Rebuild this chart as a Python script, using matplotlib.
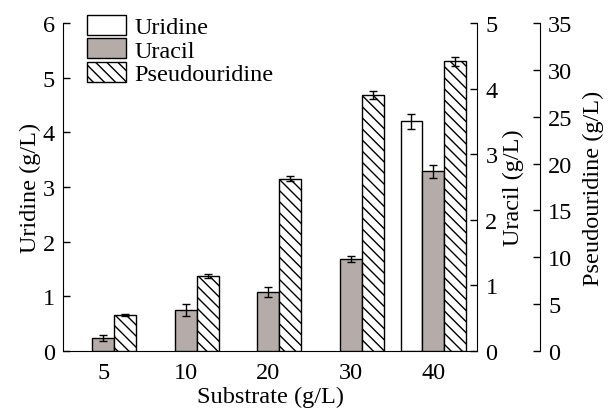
import numpy as np
import matplotlib
matplotlib.use("Agg")
import matplotlib.pyplot as plt

plt.rcParams['font.family'] = ['Liberation Serif', 'DejaVu Serif']
plt.rcParams['hatch.linewidth'] = 1.0

substrate = ['5', '10', '20', '30', '40']
uridine = [0, 0, 0, 0, 4.2]
uridine_err = [0, 0, 0, 0, 0.14]
uracil = [0.2, 0.63, 0.9, 1.4, 2.74]
uracil_err = [0.05, 0.09, 0.08, 0.05, 0.1]
pseudo = [3.85, 8.0, 18.4, 27.3, 30.9]
pseudo_err = [0.12, 0.22, 0.25, 0.4, 0.5]

gray = '#b5acaa'
w = 0.265
fs = 17.5
x = np.arange(len(substrate))

fig = plt.figure(figsize=(6.08, 4.10), dpi=100)
ax = fig.add_axes([0.1036, 0.1415, 0.681, 0.80])
ax2 = ax.twinx()
ax3 = ax.twinx()
ax3.spines['right'].set_position(('axes', 1.152))

eb = dict(ecolor='black', elinewidth=1, capsize=3, capthick=1)

mask = np.array(uridine) > 0
ax.bar(x[mask] - w, np.array(uridine)[mask], w, yerr=np.array(uridine_err)[mask],
       color='white', edgecolor='black', linewidth=1, error_kw=eb, label='Uridine')
b2 = ax2.bar(x, uracil, w, yerr=uracil_err, color=gray, edgecolor='black',
             linewidth=1, error_kw=eb, label='Uracil')
b3 = ax3.bar(x + w, pseudo, w, yerr=pseudo_err, color='white', edgecolor='black',
             hatch='\\\\\\', linewidth=1, error_kw=eb, label='Pseudouridine')

ax.set_xlim(-0.49, 4.53)
ax.set_ylim(0, 6)
ax2.set_ylim(0, 5)
ax3.set_ylim(0, 35)
ax.set_xticks(x)
ax.set_xticklabels(substrate)
ax.set_yticks(range(0, 7))
ax2.set_yticks(range(0, 6))
ax3.set_yticks(range(0, 36, 5))

for a in (ax, ax2, ax3):
    a.spines['top'].set_visible(False)
    a.tick_params(direction='in', length=5, width=1, labelsize=fs, pad=6)
ax.tick_params(axis='x', length=0, pad=8)
ax.spines['right'].set_visible(False)
ax3.spines['left'].set_visible(False)
ax3.spines['bottom'].set_visible(False)
ax2.spines['left'].set_visible(False)
ax2.spines['bottom'].set_visible(False)

ax.set_ylabel('Uridine (g/L)', fontsize=fs, labelpad=1)
ax2.set_ylabel('Uracil (g/L)', fontsize=fs, labelpad=4)
ax3.set_ylabel('Pseudouridine (g/L)', fontsize=fs, labelpad=7)
ax.set_xlabel('Substrate (g/L)', fontsize=fs, labelpad=2)

h1, l1 = ax.get_legend_handles_labels()
handles = h1 + [b2, b3]
labels = l1 + ['Uracil', 'Pseudouridine']
ax.legend(handles, labels, loc='upper left', bbox_to_anchor=(0.058, 1.025), frameon=False,
          fontsize=fs, handlelength=1.6, handleheight=0.9, labelspacing=0.0,
          handletextpad=0.35, borderaxespad=0, borderpad=0)

fig.savefig('out.png', dpi=100)
